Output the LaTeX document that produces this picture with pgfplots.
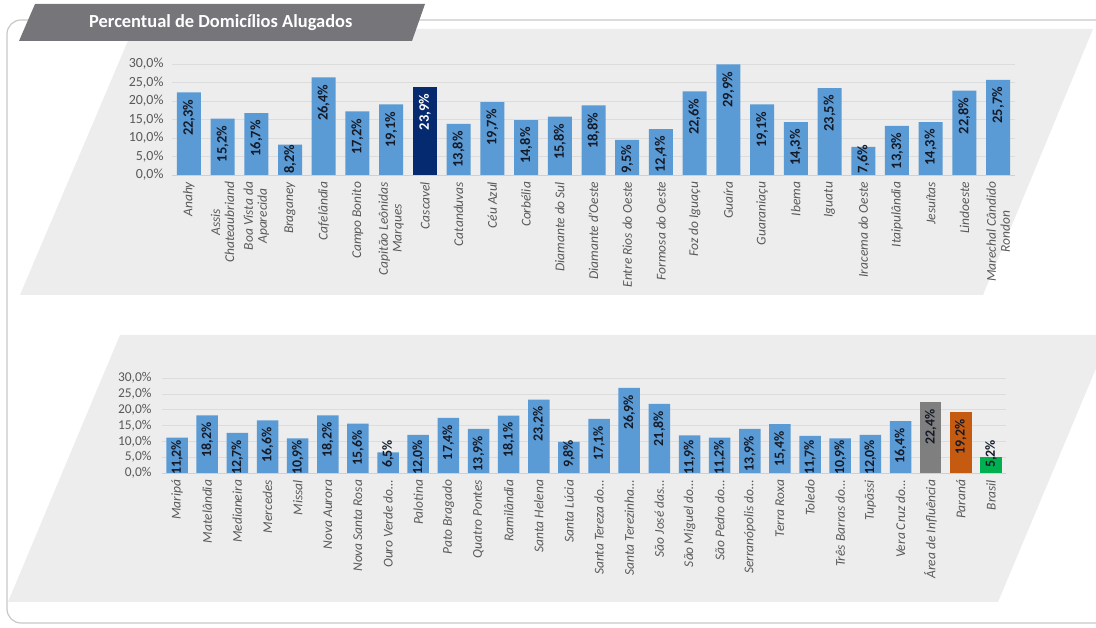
\documentclass[border=0pt]{standalone}
\usepackage{pgfplots}
\pgfplotsset{compat=1.18}
\usepackage{pgfplotstable}
\usepackage{fontspec}
\setmainfont{Carlito}

\definecolor{bluebar}{HTML}{5B9BD5}
\definecolor{navybar}{HTML}{062A70}
\definecolor{greybar}{HTML}{7F7F7F}
\definecolor{orangebar}{HTML}{C55A11}
\definecolor{greenbar}{HTML}{00B050}
\definecolor{panelcol}{HTML}{EDEDED}
\definecolor{tabcol}{HTML}{76757A}
\definecolor{framecol}{HTML}{C8C8C8}
\definecolor{tickcol}{HTML}{595959}
\definecolor{gridcol}{HTML}{DCDCDC}
\definecolor{axiscol}{HTML}{D0D0D0}
\definecolor{lblcol}{HTML}{141A28}

% ---------- top panel data ----------
\pgfplotstableread{
x v
0 22.3
1 15.2
2 16.7
3 8.2
4 26.4
5 17.2
6 19.1
8 13.8
9 19.7
10 14.8
11 15.8
12 18.8
13 9.5
14 12.4
15 22.6
16 29.9
17 19.1
18 14.3
19 23.5
20 7.6
21 13.3
22 14.3
23 22.8
24 25.7
}\topmain
\pgfplotstableread{
x v
7 23.9
}\topcascavel

% ---------- bottom panel data ----------
\pgfplotstableread{
x v
0 11.2
1 18.2
2 12.7
3 16.6
4 10.9
5 18.2
6 15.6
7 6.5
8 12.0
9 17.4
10 13.9
11 18.1
12 23.2
13 9.8
14 17.1
15 26.9
16 21.8
17 11.9
18 11.2
19 13.9
20 15.4
21 11.7
22 10.9
23 12.0
24 16.4
}\botmain
\pgfplotstableread{
x v
25 22.4
}\botarea
\pgfplotstableread{
x v
26 19.2
}\botparana
\pgfplotstableread{
x v
27 5.2
}\botbrasil

\pgfplotsset{
  panelaxis/.style={
    scale only axis, ybar, bar shift=0pt,
    ymin=0, ymax=30, ytick={0,5,...,30},
    enlargelimits=false,
    axis x line*=bottom, axis y line*=left,
    y axis line style={draw=none},
    x axis line style={draw=axiscol, line width=0.8bp},
    major tick length=0pt,
    ymajorgrids, grid style={draw=gridcol, line width=0.6bp},
    /pgf/number format/assume math mode=true,
    yticklabel={\pgfmathprintnumber[fixed,fixed zerofill,precision=1,use comma]{\tick}\%},
    xticklabel style={rotate=90, anchor=east, align=center, text=tickcol,
      font=\fontsize{13.5}{14}\selectfont\itshape},
    xticklabel shift=3.5bp,
    clip=false,
  },
  barlabels/.style n args={4}{draw=none, fill=none, bar shift=0pt,
    point meta=explicit,
    nodes near coords={\pgfmathprintnumber[fixed,fixed zerofill,precision=1,use comma]{\pgfplotspointmeta}\%},
    nodes near coords style={rotate=90, anchor=east, inner sep=0pt, text=#1,
      font=\fontsize{#4}{14}\selectfont\bfseries},
    y filter/.expression={max(y-#2,#3)}},
}

\begin{document}
\begin{tikzpicture}[x=1bp,y=1bp]
\useasboundingbox (0,0) rectangle (1096,628);
\begin{scope}
\clip (0,0) rectangle (1096,628);
\draw[draw=framecol, line width=1.2bp, rounded corners=14bp, fill=white] (7,5) rectangle (1140,608);
\fill[panelcol] (133,599) -- (1093,599) -- (983,333) -- (20,333) -- cycle;
\fill[panelcol] (120,293) -- (1110,293) -- (998,26) -- (8,26) -- cycle;
\fill[tabcol] (35,624) -- (425,624) -- (412,587) -- (19,587) -- cycle;
\node[anchor=west, text=white, font=\fontsize{18.5}{20}\selectfont\bfseries, inner sep=0pt] at (89,605.5) {Percentual de Domicílios Alugados};
\end{scope}

% ---------------- top axis ----------------
\begin{axis}[panelaxis,
  at={(172bp,453bp)}, anchor=south west,
  width=843bp, height=111bp,
  xmin=-0.5, xmax=24.5, bar width=24bp,
  xtick={0,...,24},
  yticklabel style={font=\fontsize{14}{14}\selectfont, text=tickcol, xshift=-5bp},
  xticklabels={Anahy, {Assis\\Chateaubriand}, {Boa Vista da\\Aparecida}, Braganey, Cafelândia, Campo Bonito, {Capitão Leônidas\\Marques}, Cascavel, Catanduvas, Céu Azul, Corbélia, Diamante do Sul, Diamante d'Oeste, Entre Rios do Oeste, Formosa do Oeste, Foz do Iguaçu, Guaíra, Guaraniaçu, Ibema, Iguatu, Iracema do Oeste, Itaipulândia, Jesuítas, Lindoeste, {Marechal Cândido\\Rondon}},
]
\addplot[fill=bluebar, draw=none, bar shift=0pt] table[x=x, y=v] {\topmain};
\addplot[fill=navybar, draw=none, bar shift=0pt] table[x=x, y=v] {\topcascavel};
\addplot[barlabels={lblcol}{1.9}{8.3}{14.5}] table[x=x, y=v, meta=v] {\topmain};
\addplot[barlabels={white}{1.9}{8.3}{14.5}] table[x=x, y=v, meta=v] {\topcascavel};
\end{axis}

% ---------------- bottom axis ----------------
\begin{axis}[panelaxis,
  at={(162bp,155bp)}, anchor=south west,
  width=844bp, height=95bp,
  xmin=-0.5, xmax=27.5, bar width=21.5bp,
  xtick={0,...,27},
  yticklabel style={font=\fontsize{13.5}{14}\selectfont, text=tickcol, xshift=-7bp},
  xticklabels={Maripá, Matelândia, Medianeira, Mercedes, Missal, Nova Aurora, Nova Santa Rosa, Ouro Verde do…, Palotina, Pato Bragado, Quatro Pontes, Ramilândia, Santa Helena, Santa Lúcia, Santa Tereza do…, Santa Terezinha…, São José das…, São Miguel do…, São Pedro do…, Serranópolis do…, Terra Roxa, Toledo, Três Barras do…, Tupãssi, Vera Cruz do…, Área de Influência, Paraná, Brasil},
]
\addplot[fill=bluebar, draw=none, bar shift=0pt] table[x=x, y=v] {\botmain};
\addplot[fill=greybar, draw=none, bar shift=0pt] table[x=x, y=v] {\botarea};
\addplot[fill=orangebar, draw=none, bar shift=0pt] table[x=x, y=v] {\botparana};
\addplot[fill=greenbar, draw=none, bar shift=0pt] table[x=x, y=v] {\botbrasil};
\addplot[barlabels={lblcol}{2.2}{10.5}{14}] table[x=x, y=v, meta=v] {\botmain};
\addplot[barlabels={lblcol}{2.2}{10.5}{14}] table[x=x, y=v, meta=v] {\botarea};
\addplot[barlabels={lblcol}{2.2}{10.5}{14}] table[x=x, y=v, meta=v] {\botparana};
\addplot[barlabels={lblcol}{2.2}{10.5}{14}] table[x=x, y=v, meta=v] {\botbrasil};
\end{axis}
\end{tikzpicture}
\end{document}
